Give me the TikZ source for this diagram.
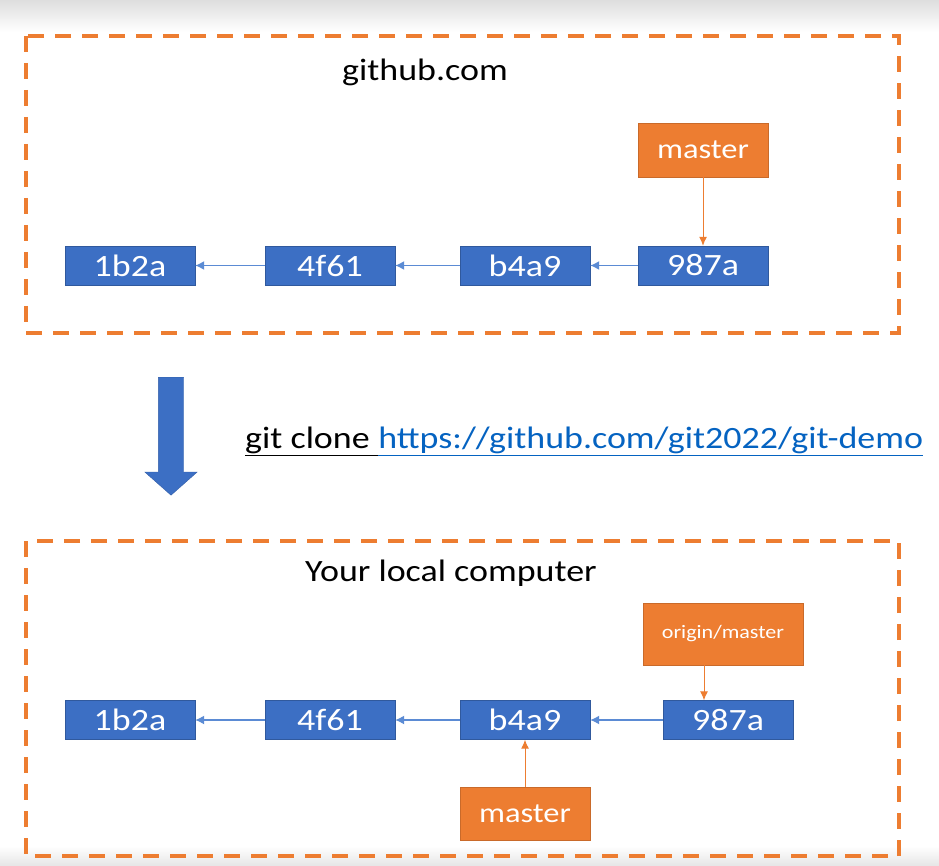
\documentclass[tikz,border=0pt]{standalone}
\usepackage{fontspec}
\setmainfont{Carlito}[FakeStretch=1.16]
\usetikzlibrary{arrows.meta,shapes.arrows}
\definecolor{commitblue}{HTML}{3C6FC4}
\definecolor{linkblue}{HTML}{5B8BD4}
\definecolor{refor}{HTML}{ED7D31}
\definecolor{urlblue}{HTML}{0563C1}

\begin{document}
\begin{tikzpicture}[x=1pt,y=-1pt,
  commit/.style={fill=commitblue,draw=commitblue!80!black,line width=0.4pt,text=white,
    minimum width=130pt,minimum height=39pt,inner sep=0pt,font=\fontsize{31}{31}\selectfont},
  branch/.style={fill=refor,draw=refor!85!black,line width=0.4pt,text=white,
    minimum width=130pt,minimum height=54pt,inner sep=0pt,font=\fontsize{28}{28}\selectfont},
  parent/.style={draw=linkblue,line width=1.3pt,-{Latex[length=9pt,width=9pt]}},
  refline/.style={draw=refor,line width=1pt,-{Latex[length=9pt,width=8pt]}},
  frame/.style={draw=refor,line width=4pt,dash pattern=on 16pt off 11pt},
  title/.style={font=\fontsize{31}{31}\selectfont},
  cmdtext/.style={anchor=base west,inner sep=0pt,font=\fontsize{31}{31}\selectfont}]
\useasboundingbox (0,0) rectangle (939,866);
\shade[top color=black!13,bottom color=white] (0,0) rectangle (939,32);
\shade[top color=white,bottom color=black!10] (0,846) rectangle (939,866);
% github.com
\draw[frame] (26,36) rectangle (899,333);
\node[title] (remote) at (425,72) {github.com};
\node[commit] (r1) at (130,265.5) {1b2a};
\node[commit] (r2) at (330,265.5) {4f61};
\node[commit] (r3) at (525,265.5) {b4a9};
\node[commit] (r4) at (703,265.5) {987a};
\node[branch] (rmaster) at (703,150) {master};
\draw[parent] (r2) -- (r1);
\draw[parent] (r3) -- (r2);
\draw[parent] (r4) -- (r3);
\draw[refline] (rmaster) -- (r4);
% clone
\node[single arrow,fill=commitblue,draw=commitblue!85!black,rotate=-90,anchor=tail,
  minimum height=118pt,inner xsep=0pt,inner ysep=12.5pt,single arrow head extend=13.5pt,
  single arrow tip angle=97] (clone) at (171,377) {};
\node[cmdtext] (gitcmd) at (245,448) {git clone\ \null};
\node[cmdtext,text=urlblue] (url) at (gitcmd.base east) {https://github.com/git2022/git-demo};
\draw[line width=1.3pt] ([yshift=-2pt]gitcmd.south west) -- ([yshift=-2pt]gitcmd.south east);
\draw[urlblue,line width=1.3pt] ([yshift=-2pt]url.south west) -- ([yshift=-2pt]url.south east);
% local
\draw[frame] (26,541) rectangle (899,856);
\node[title] (local) at (451,573) {Your local computer};
\node[commit] (l1) at (130,720) {1b2a};
\node[commit] (l2) at (330,720) {4f61};
\node[commit] (l3) at (525,720) {b4a9};
\node[commit] (l4) at (728,720) {987a};
\node[branch,minimum width=160pt,minimum height=62pt,font=\fontsize{19}{19}\selectfont]
  (omaster) at (723,634) {origin/master};
\node[branch,minimum height=53pt] (lmaster) at (525,813.5) {master};
\draw[parent] (l2) -- (l1);
\draw[parent] (l3) -- (l2);
\draw[parent] (l4) -- (l3);
\draw[refline] ([xshift=-19pt]omaster.south) -- ([xshift=-24pt]l4.north);
\draw[refline] (lmaster) -- (l3);
\end{tikzpicture}
\end{document}
